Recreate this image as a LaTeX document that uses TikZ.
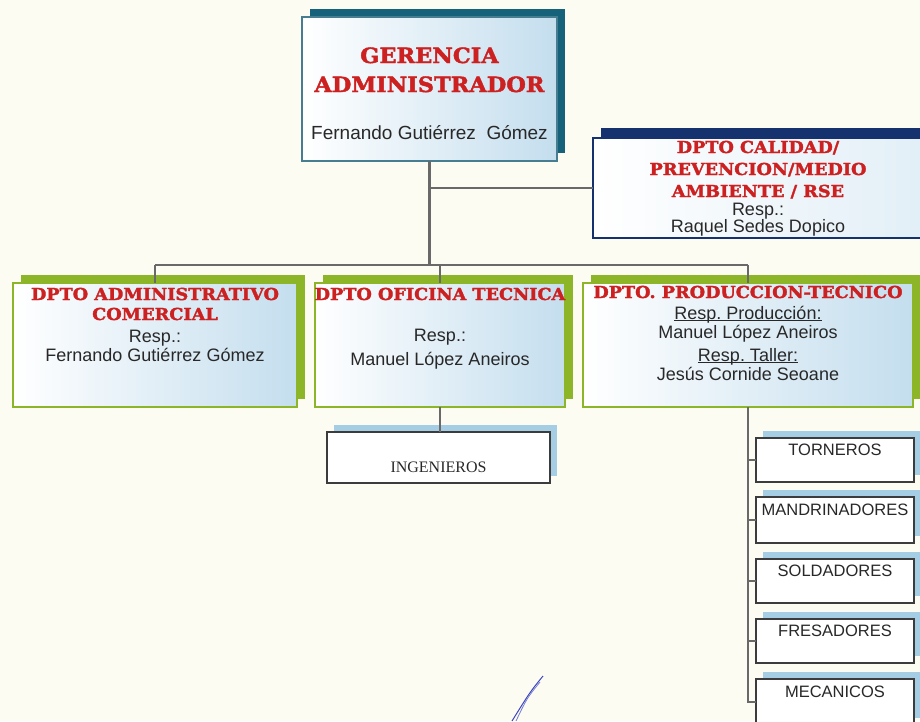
\documentclass[tikz,border=0pt]{standalone}
\usepackage{fontspec}
\setmainfont{Liberation Sans}
\newfontfamily\redfont{DejaVu Serif}[FakeStretch=1.07, BoldFeatures={FakeBold=2}]
\newfontfamily\ingfont{Liberation Serif}
\pgfdeclarelayer{back}
\pgfdeclarelayer{bg}
\pgfsetlayers{back,bg,main}
\definecolor{bgc}{RGB}{252,252,242}
\definecolor{redc}{RGB}{205,32,32}
\definecolor{txtc}{RGB}{40,40,40}
\definecolor{tealsh}{RGB}{22,98,122}
\definecolor{tealln}{RGB}{70,125,145}
\definecolor{navy}{RGB}{22,50,110}
\definecolor{greensh}{RGB}{140,182,40}
\definecolor{lblue}{RGB}{196,222,238}
\definecolor{shblue}{RGB}{165,205,228}
\definecolor{linec}{RGB}{105,105,105}
\definecolor{boxln}{RGB}{60,60,60}
\definecolor{sigc}{RGB}{60,70,190}
\frenchspacing
\begin{document}
\begin{tikzpicture}[x=1pt,y=-1pt,
  boxbase/.style={inner sep=0pt, outer sep=0pt},
  gerbox/.style={boxbase, draw=tealln, line width=1.3pt, left color=white, right color=lblue},
  calbox/.style={boxbase, draw=navy, line width=1.3pt, left color=white, right color=lblue!50},
  grbox/.style={boxbase, draw=greensh, line width=2pt, left color=white, right color=lblue},
  smbox/.style={boxbase, draw=boxln, line width=1.6pt, fill=white},
  hd/.style={text=redc, font=\redfont\bfseries\fontsize{16.5}{18}\selectfont, anchor=base, inner sep=0pt},
  hdbig/.style={hd, font=\redfont\bfseries\fontsize{21}{24}\selectfont},
  bt/.style={text=txtc, font=\fontsize{18}{20}\selectfont, anchor=base, inner sep=0pt},
  st/.style={text=txtc, font=\fontsize{16.5}{18}\selectfont, anchor=base, inner sep=0pt},
  it/.style={text=txtc, font=\ingfont\fontsize{16}{18}\selectfont, anchor=base, inner sep=0pt},
  conn/.style={draw=linec, line width=2.7pt},
  uline/.style={draw=txtc, line width=0.9pt},
]
\begin{pgfonlayer}{back}
\fill[bgc] (0,0) rectangle (920,721);
\end{pgfonlayer}
\useasboundingbox (0,0) rectangle (920,721);

% ---------- boxes ----------
\node[gerbox, minimum width=255pt, minimum height=144pt] (ger) at (429.5,89) {};
\node[calbox, minimum width=337pt, minimum height=100pt] (cal) at (761.5,188) {};
\node[grbox, minimum width=284pt, minimum height=124pt] (adm) at (155,345) {};
\node[grbox, minimum width=250pt, minimum height=124pt] (ofi) at (440,345) {};
\node[grbox, minimum width=330pt, minimum height=124pt] (pro) at (748,345) {};
\node[smbox, minimum width=223pt, minimum height=51pt] (ing) at (438.5,457.5) {};
\node[smbox, minimum width=158pt, minimum height=44pt] (tor) at (835,460) {};
\node[smbox, minimum width=158pt, minimum height=46pt] (man) at (835,520) {};
\node[smbox, minimum width=158pt, minimum height=44pt] (sol) at (835,581) {};
\node[smbox, minimum width=158pt, minimum height=44pt] (fre) at (835,641) {};
\node[smbox, minimum width=158pt, minimum height=46pt] (mec) at (835,702) {};

% ---------- shadows ----------
\begin{pgfonlayer}{bg}
\fill[tealsh] ([xshift=8pt,yshift=8pt]ger.south west) rectangle ([xshift=8pt,yshift=8pt]ger.north east);
\fill[navy] ([xshift=8pt,yshift=10pt]cal.south west) rectangle ([xshift=8pt,yshift=10pt]cal.north east);
\foreach \b in {adm,ofi,pro}
  \fill[greensh] ([xshift=8pt,yshift=8pt]\b.south west) rectangle ([xshift=8pt,yshift=8pt]\b.north east);
\foreach \b in {ing,tor,man,sol,fre,mec}
  \fill[shblue] ([xshift=7pt,yshift=7pt]\b.south west) rectangle ([xshift=7pt,yshift=7pt]\b.north east);
\end{pgfonlayer}

% ---------- connectors ----------
\coordinate (hub) at (ger.south |- 0,265);
\draw[conn] (ger.south) -- (hub);
\draw[conn] (ger.south |- cal.west) -- (cal.west);
\draw[conn] (adm.north |- hub) -- (pro.north |- hub);
\draw[conn] (adm.north |- hub) -- (adm.north);
\draw[conn] (ofi.north |- hub) -- (ofi.north);
\draw[conn] (pro.north |- hub) -- (pro.north);
\draw[conn] (ofi.south) -- (ofi.south |- ing.north);
\draw[conn] (pro.south) -- (pro.south |- mec.west) -- (mec.west);
\foreach \b in {tor,man,sol,fre}
  \draw[conn] (pro.south |- \b.west) -- (\b.west);

% ---------- texts ----------
\node[hdbig] (gt1) at (429.5,63) {GERENCIA};
\node[hdbig] (gt2) at (429.5,92) {ADMINISTRADOR};
\node[bt, font=\fontsize{19}{21}\selectfont] (gt3) at (429.5,139) {Fernando Gutiérrez\ \ Gómez};

\node[hd] (ct1) at (758,153) {DPTO CALIDAD/};
\node[hd] (ct2) at (758,175) {PREVENCION/MEDIO};
\node[hd] (ct3) at (758,197) {AMBIENTE / RSE};
\node[bt] (ct4) at (758,215) {Resp.:};
\node[bt] (ct5) at (758,232) {Raquel Sedes Dopico};

\node[hd] (at1) at (155,300) {DPTO ADMINISTRATIVO};
\node[hd] (at2) at (155,320) {COMERCIAL};
\node[bt] (at3) at (155,342) {Resp.:};
\node[bt] (at4) at (155,361) {Fernando Gutiérrez Gómez};

\node[hd] (ot1) at (440,300) {DPTO OFICINA TECNICA};
\node[bt] (ot2) at (440,341) {Resp.:};
\node[bt] (ot3) at (440,365) {Manuel López Aneiros};

\node[hd] (pt1) at (748,298) {DPTO. PRODUCCION-TECNICO};
\node[bt] (pt2) at (748,319) {Resp. Producción:};
\node[bt] (pt3) at (748,338) {Manuel López Aneiros};
\node[bt] (pt4) at (748,361) {Resp. Taller:};
\node[bt] (pt5) at (748,380) {Jesús Cornide Seoane};
\draw[uline] ([yshift=-1.8pt]pt2.base west) -- ([yshift=-1.8pt]pt2.base east);
\draw[uline] ([yshift=-1.8pt]pt4.base west) -- ([yshift=-1.8pt]pt4.base east);

\node[it] (ingt) at (438.5,472) {INGENIEROS};
\node[st] (tort) at (835,455) {TORNEROS};
\node[st] (mant) at (835,515) {MANDRINADORES};
\node[st] (solt) at (835,576) {SOLDADORES};
\node[st] (fret) at (835,636) {FRESADORES};
\node[st] (mect) at (835,697) {MECANICOS};

% ---------- signature stroke ----------
\draw[sigc, line width=1pt] (543,676) .. controls (530,692) .. (512,721);
\draw[sigc!70, line width=0.8pt] (540,682) .. controls (527,698) .. (516,721);
\end{tikzpicture}
\end{document}
